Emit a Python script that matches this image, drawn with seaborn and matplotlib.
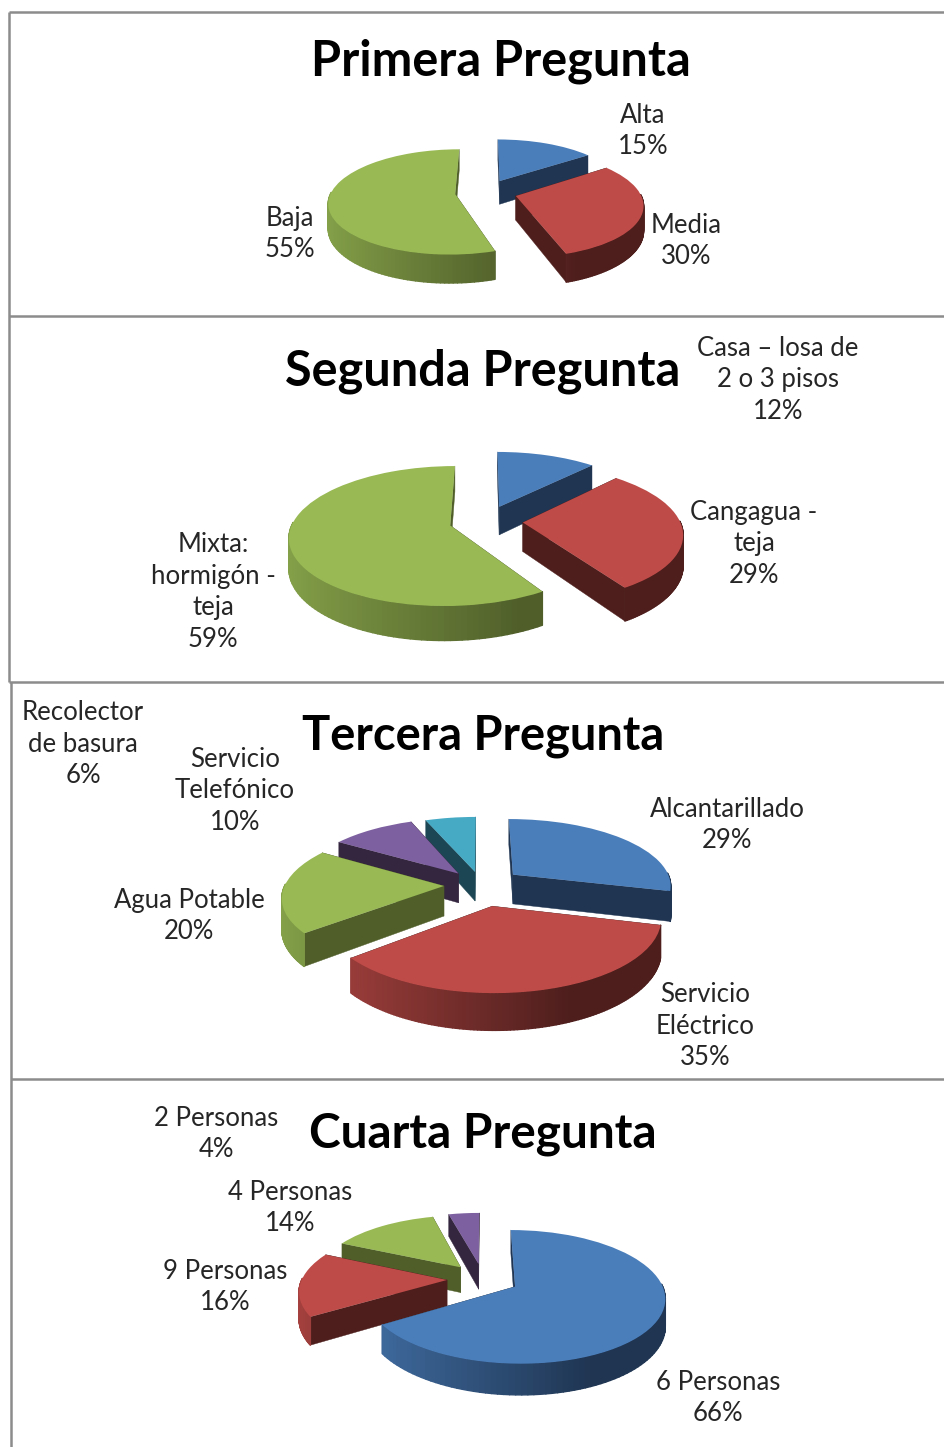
import numpy as np
import seaborn as sns
import matplotlib.pyplot as plt
import matplotlib.transforms as mtransforms
from matplotlib.collections import PolyCollection


# ==========================================
# 1. DATA
# ==========================================

titles = ["Primera Pregunta", "Segunda Pregunta", "Tercera Pregunta", "Cuarta Pregunta"]

values_1 = [15, 30, 55]
values_2 = [12, 29, 59]
values_3 = [29, 35, 20, 10, 6]
values_4 = [66, 16, 14, 4]

labels_1 = ["Alta\n15%", "Media\n30%", "Baja\n55%"]
labels_2 = ["Casa – losa de\n2 o 3 pisos\n12%", "Cangagua -\nteja\n29%", "Mixta:\nhormigón -\nteja\n59%"]
labels_3 = ["Alcantarillado\n29%", "Servicio\nEléctrico\n35%", "Agua Potable\n20%",
            "Servicio\nTelefónico\n10%", "Recolector\nde basura\n6%"]
labels_4 = ["6 Personas\n66%", "9 Personas\n16%", "4 Personas\n14%", "2 Personas\n4%"]

# ==========================================
# 2. STYLE & LAYOUT
# ==========================================

TOP_COLORS = ["#4a7ebb", "#be4b48", "#98b954", "#7d60a0", "#46aac5"]
SIDE_COLORS = ["#1f3552", "#4d1e1c", "#505f2a", "#35263f", "#1d4654"]

# center x, center y, radius, squash, perspective, depth
GEOMETRY = [
    (486, 192, 124, 0.41, 0.15, 24),
    (486, 521, 157, 0.427, 0.15, 29),
    (481, 885, 159, 0.42, 0.15, 30),
    (483, 1279, 145, 0.434, 0.15, 26),
]

EXPLODES = [
    [0.25, 0.25, 0.25],
    [0.235, 0.235, 0.235],
    [0.26, 0.31, 0.233, 0.228, 0.207],
    [0.248, 0.248, 0.248, 0.248],
]

LABEL_POS_1 = [(643, 131), (686, 241), (290, 234)]
LABEL_POS_2 = [(778, 380), (754, 544), (213, 592)]
LABEL_POS_3 = [(727, 825), (705, 1026), (189, 916), (235, 791), (83, 744)]
LABEL_POS_4 = [(718, 1398), (225, 1287), (290, 1208), (216, 1134)]

TITLE_POS = [(501, 61), (483, 371), (483, 736), (483, 1134)]
TITLE_SIZES = [35, 35, 33.8, 34.4]

FRAME_LINES = [
    ((9, 945), (12, 12)),
    ((9, 945), (316, 316)),
    ((9, 945), (682, 682)),
    ((11, 945), (1079, 1079)),
    ((9, 9), (12, 682)),
    ((11, 11), (682, 1447)),
]


class TiltTransform(mtransforms.Transform):
    # squashes the flat pie into a tilted plane with some perspective
    input_dims = 2
    output_dims = 2
    is_separable = False
    has_inverse = False

    def __init__(self, geometry):
        super().__init__()
        self.cx, self.cy, self.r, self.k, self.p, self.thick = geometry

    def transform_non_affine(self, xy):
        xy = np.asarray(xy, dtype=float)
        s = 1.0 / (1.0 + self.p * xy[:, 1])
        return np.column_stack([self.cx + self.r * xy[:, 0] * s,
                                self.cy - self.r * self.k * xy[:, 1] * s])

    def wall(self, xy):
        # same points pushed down by the thickness of the pie
        xy = np.asarray(xy, dtype=float)
        s = 1.0 / (1.0 + self.p * xy[:, 1])
        out = self.transform_non_affine(xy)
        out[:, 1] += self.thick * s
        return out


def mix(a, b, t):
    return tuple((1 - t) * x + t * y for x, y in zip(a, b))


def hex_rgb(color):
    return tuple(int(color[j:j + 2], 16) / 255 for j in (1, 3, 5))


def draw_pie(ax, values, explode, geometry):
    tilt = TiltTransform(geometry)
    colors = TOP_COLORS[:len(values)]
    wedges, _ = ax.pie(values, explode=explode, colors=colors, startangle=90,
                       counterclock=False, radius=1.0, wedgeprops={"linewidth": 0})

    # back slices first
    order = []
    for w in wedges:
        mid = np.deg2rad((w.theta1 + w.theta2) / 2)
        order.append(w.center[1] + 0.5 * np.sin(mid))
    rank = np.argsort(np.argsort(-np.array(order)))

    for i, w in enumerate(wedges):
        base_z = 2 + 2 * rank[i]
        x0, y0 = w.center
        theta = np.deg2rad(np.linspace(w.theta1, w.theta2, 120))
        arc = np.column_stack([x0 + w.r * np.cos(theta), y0 + w.r * np.sin(theta)])
        tip = np.array([[x0, y0]])
        dark = SIDE_COLORS[i]

        # cut faces
        faces = []
        for end in (arc[0:1], arc[-1:]):
            seg = np.vstack([tip, end])
            faces.append(np.vstack([tilt.transform_non_affine(seg), tilt.wall(seg)[::-1]]))
        ax.add_collection(PolyCollection(faces, facecolors=dark, edgecolors=dark,
                                         linewidths=0.3, zorder=base_z))

        # outer wall, lighter on the left and dark from about 3/4 of the way across
        top = tilt.transform_non_affine(arc)
        bot = tilt.wall(arc)
        light = tuple(c * 0.88 for c in hex_rgb(TOP_COLORS[i]))
        deep = hex_rgb(dark)
        quads, shades = [], []
        for j in range(len(arc) - 1):
            if np.sin(theta[j]) > 0.02 and np.sin(theta[j + 1]) > 0.02:
                continue
            quads.append([top[j], top[j + 1], bot[j + 1], bot[j]])
            t = np.clip((np.cos(theta[j]) + 1) / 1.4, 0, 1)
            shades.append(mix(light, deep, t))
        if quads:
            ax.add_collection(PolyCollection(quads, facecolors=shades, edgecolors=shades,
                                             linewidths=1.0, zorder=base_z + 0.5))

        w.set_transform(tilt + ax.transData)
        w.set_zorder(base_z + 1)


# ==========================================
# 3. FIGURE
# ==========================================

sns.set_theme(style="white")
plt.rcParams['font.family'] = ['Lato', 'DejaVu Sans']

fig, ax = plt.subplots(figsize=(9.45, 14.47), dpi=100)
fig.subplots_adjust(left=0, right=1, bottom=0, top=1)

all_values = [values_1, values_2, values_3, values_4]
all_labels = [labels_1, labels_2, labels_3, labels_4]
all_pos = [LABEL_POS_1, LABEL_POS_2, LABEL_POS_3, LABEL_POS_4]

for values, explode, geometry in zip(all_values, EXPLODES, GEOMETRY):
    draw_pie(ax, values, explode, geometry)

ax.set_aspect('auto')
ax.set_xlim(0, 945)
ax.set_ylim(1447, 0)
ax.set_xticks([])
ax.set_yticks([])
sns.despine(ax=ax, left=True, bottom=True)

for xs, ys in FRAME_LINES:
    ax.plot(xs, ys, color="#8c8c8c", lw=1.8, zorder=1, solid_capstyle='butt')

for title, (x, y), size in zip(titles, TITLE_POS, TITLE_SIZES):
    ax.text(x, y, title, ha='center', va='center', fontsize=size, fontweight='bold',
            color='black', zorder=30)

for labels, positions in zip(all_labels, all_pos):
    for label, (x, y) in zip(labels, positions):
        ax.text(x, y, label, ha='center', va='center', fontsize=18.5, color='#262626',
                linespacing=1.32, zorder=30)

fig.savefig("out.png", dpi=100, facecolor='white')
plt.close(fig)
